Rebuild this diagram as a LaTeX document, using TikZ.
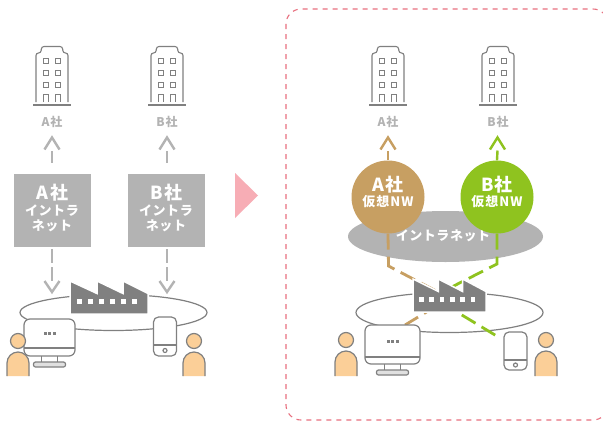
\documentclass[tikz,border=0pt]{standalone}
\usepackage{fontspec}
\usetikzlibrary{shapes.geometric}
\setmainfont{Noto Sans CJK JP}
\newfontfamily\jpwide[LetterSpace=8]{Noto Sans CJK JP}
\newfontfamily\jpmid[LetterSpace=4]{Noto Sans CJK JP}
\definecolor{stk}{HTML}{808080}
\definecolor{bxg}{HTML}{B3B3B3}
\definecolor{skin}{HTML}{FBCF98}
\definecolor{tanc}{HTML}{C79F62}
\definecolor{grn}{HTML}{8FC31F}
\definecolor{pnk}{HTML}{F7ADB5}
\definecolor{pnkd}{HTML}{E8707F}
\tikzset{
  ico/.style={draw=stk,line width=1pt},
  lbl/.style={font=\jpwide\bfseries\fontsize{12}{12}\selectfont,text=bxg,inner sep=0pt},
  gbox/.style={fill=bxg,minimum width=77pt,minimum height=73pt,inner sep=0pt},
  vpn/.style={circle,minimum size=73pt,inner sep=0pt},
  intxt/.style={inner sep=0pt,align=center,text=white,font=\jpwide\bfseries\fontsize{13}{15}\selectfont},
  intmid/.style={inner sep=0pt,align=center,text=white,font=\jpmid\bfseries\fontsize{13}{15}\selectfont},
  hd/.style={inner sep=0pt,text=white,font=\jpwide\bfseries\fontsize{18}{20}\selectfont},
  stemline/.style={line width=2.4pt},
  dsh/.style={line width=2.4pt,dash pattern=on 14pt off 4pt},
  dshb/.style={line width=2.8pt,dash pattern=on 16pt off 7pt},
  lan/.style={draw=stk,line width=1.2pt,fill=white},
}
\newcommand\chevup[2]{\draw[#2,line width=2.4pt] ([shift={(-7.5,12)}]#1) -- (#1) -- ([shift={(7.5,12)}]#1);}
\newcommand\chevdn[2]{\draw[#2,line width=2.4pt] ([shift={(-7.5,-11)}]#1) -- (#1) -- ([shift={(7.5,-11)}]#1);}
\newcommand\tower[1]{%
 \begin{scope}[shift={(#1)}]
  \draw[ico,line width=1.1pt,rounded corners=2.5pt] (-16,58) -- (-16,9) -- (-11,9) -- (-10.5,2.5) -- (10.5,2.5) -- (11,9) -- (16,9) -- (16,58);
  \draw[ico,line width=1.2pt] (-19,61) -- (19,61);
  \foreach \y in {17,29,41}{\foreach \x in {-6,6}{\draw[ico] (\x-2.3,\y-2.3) rectangle (\x+2.3,\y+2.3);}}
  \foreach \x in {-6,6}{\draw[ico] (\x-2.8,58) -- (\x-2.8,50) -- (\x+2.8,50) -- (\x+2.8,58);}
 \end{scope}}
\newcommand\person[2]{%
 \fill[skin] (#1-11,376) -- (#1-11,#2+11) arc[start angle=180,end angle=360,radius=11] -- (#1+11,376) -- cycle;
 \draw[ico,line width=1.2pt] (#1-11,376) -- (#1-11,#2+11) arc[start angle=180,end angle=360,radius=11] -- (#1+11,376);
 \draw[ico,line width=1.2pt,fill=skin] (#1,#2-11) circle (7.5);}
\newcommand\factory[3]{% left, top, scale width
 \begin{scope}[shift={(#1,#2)},xscale=#3]
  \fill[stk,draw=white,line width=1.5pt] (0,0) -- (27,12.5) -- (27,0) -- (53,12.5) -- (53,0) -- (78,12.5) -- (78,33) -- (0,33) -- cycle;
  \foreach \x in {9,20,31,42,53,64}{\fill[white] (\x-2.5,17.5) rectangle (\x+2.5,22.5);}
 \end{scope}}
\newcommand\monitor[6]{% l r top line bottom baseTop
 \draw[lan,rounded corners=6pt] (#1,#3) rectangle (#2,#5);
 \draw[ico,line width=1.2pt] (#1,#4) -- (#2,#4);
 \draw[ico,line width=1.2pt] ({(#1+#2)/2-8},#5) -- ({(#1+#2)/2-8},#6) ({(#1+#2)/2+8},#5) -- ({(#1+#2)/2+8},#6);
 \draw[ico,line width=1.2pt,fill=black!12,rounded corners=2pt] ({(#1+#2)/2-16},#6) rectangle ({(#1+#2)/2+16},#6+5);
 \foreach \d in {-4.5,0,4.5}{\fill[stk] ({(#1+#2)/2+\d-1.5},{(#3+#4)/2-1.5}) rectangle ({(#1+#2)/2+\d+1.5},{(#3+#4)/2+1.5});}}
\newcommand\phone[5]{% l r top line bottom
 \draw[lan,rounded corners=5pt] (#1,#3) rectangle (#2,#5);
 \draw[ico,line width=1.2pt] (#1,#4) -- (#2,#4);
 \draw[ico,line width=1.2pt] ({(#1+#2)/2},{(#4+#5)/2}) circle (2);}
\begin{document}
\begin{tikzpicture}[x=1pt,y=-1pt]
\useasboundingbox (0,0) rectangle (603,421);
\fill[white] (0,0) rectangle (603,421);
% dashed frame
\draw[pnkd,line width=1.1pt,dash pattern=on 5pt off 5pt,rounded corners=15pt] (286,9) rectangle (608,420);
\fill[pnk] (235,173) -- (258,195.5) -- (235,218) -- cycle;
% ---- left
\tower{52,44} \tower{167,44}
\node[lbl] (la1) at (52,122) {A社};
\node[lbl] (lb1) at (167,122) {B社};
\node[gbox] (boxa) at (52.5,210.5) {};
\node[gbox] (boxb) at (166.5,210.5) {};
\node[hd] (boxah) at (52.5,192.5) {A社};
\node[hd] (boxbh) at (166.5,192.5) {B社};
\node[intmid] (boxat) at (52,218.5) {イントラ\\ネット};
\node[intmid] (boxbt) at (166,218.5) {イントラ\\ネット};
\coordinate (ua) at (52,137.5); \coordinate (ub) at (167,137.5);
\draw[bxg,stemline] ([yshift=11pt]boxa.north -| ua) -- ([yshift=-13pt]ua);
\draw[bxg,stemline] ([yshift=11pt]boxb.north -| ub) -- ([yshift=-13pt]ub);
\chevup{ua}{bxg} \chevup{ub}{bxg}
\coordinate (da) at (52,292); \coordinate (db) at (167,292);
\draw[bxg,dsh] ([yshift=-2pt]boxa.south -| da) -- ([yshift=11pt]da);
\draw[bxg,dsh] ([yshift=-2pt]boxb.south -| db) -- ([yshift=11pt]db);
\chevdn{da}{bxg} \chevdn{db}{bxg}
\node[ellipse,lan,minimum width=187pt,minimum height=36pt,inner sep=0pt] (lanl) at (113.5,312.5) {};
\factory{70}{281}{1}
\monitor{24}{75}{319}{348}{356}{362}
\phone{153.5}{176.5}{317}{345}{356}
\person{18}{352} \person{194}{352}
% ---- right
\tower{388,44} \tower{498,44}
\node[lbl] (la2) at (388,122) {A社};
\node[lbl] (lb2) at (498,122) {B社};
\node[ellipse,fill=bxg,minimum width=195pt,minimum height=51pt,inner sep=0pt] (intra) at (445.5,236.5) {};
\node[intmid] (intrat) at (443,236) {イントラネット};
\node[ellipse,lan,minimum width=187pt,minimum height=40pt,inner sep=0pt] (lanr) at (449.5,312.5) {};
\node[vpn,fill=tanc] (va) at (388,197) {};
\node[vpn,fill=grn] (vb) at (497,197) {};
\node[hd] (vah) at (388,184.5) {A社};
\node[hd] (vbh) at (497,184.5) {B社};
\node[intxt] (vat) at (388,202) {仮想NW};
\node[intxt] (vbt) at (497,202) {仮想NW};
\coordinate (uva) at (388,137.5); \coordinate (uvb) at (497.5,137.5);
\draw[tanc,stemline] (va.north) -- ([yshift=-13pt]uva);
\draw[grn,stemline] (vb.north) -- ([yshift=-13pt]uvb);
\chevup{uva}{tanc} \chevup{uvb}{grn}
\coordinate (hubt) at (449.5,298); \coordinate (hubg) at (432,297);
\coordinate (bt) at (388.5,266); \coordinate (bg) at (497,264);
\coordinate (mon) at (405,325); \coordinate (pho) at (500,338);
\draw[tanc,dshb] (va.south) -- (bt) -- (hubt) -- (mon);
\draw[grn,dshb] (vb.south) -- (bg) -- (hubg) -- (pho);
\factory{413}{279}{0.936}
\monitor{365}{420}{325}{357}{364}{370}
\phone{504}{527}{332}{360}{370}
\person{346}{351} \person{546}{351}
\end{tikzpicture}
\end{document}
